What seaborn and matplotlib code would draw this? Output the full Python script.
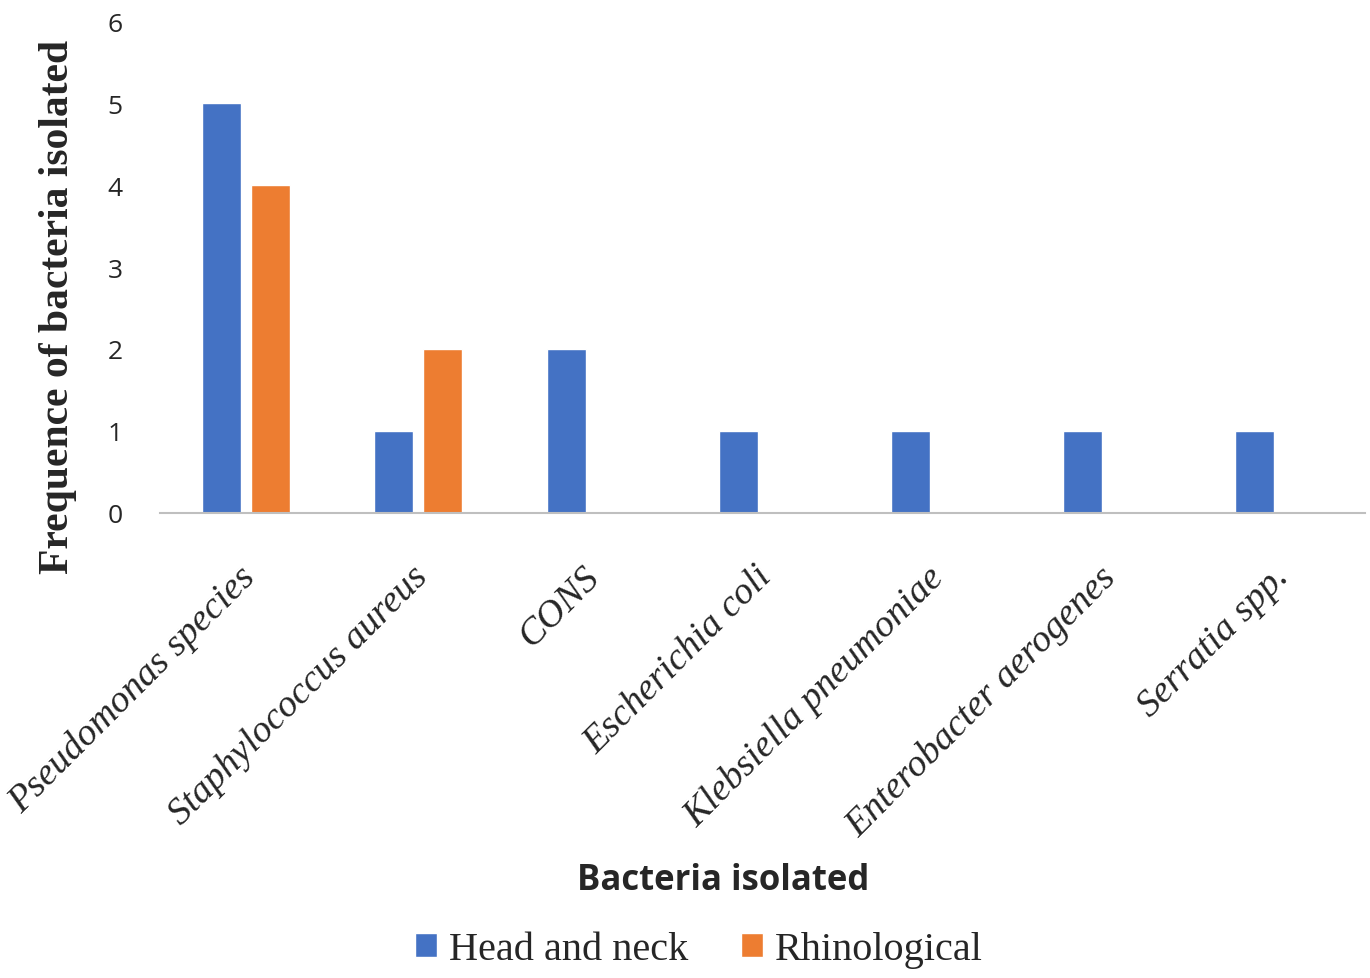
import numpy as np
import pandas as pd
import matplotlib
matplotlib.use("Agg")
import matplotlib.pyplot as plt
from matplotlib import font_manager, transforms
import seaborn as sns

# data
bacteria = ["Pseudomonas species", "Staphylococcus aureus", "CONS", "Escherichia coli",
            "Klebsiella pneumoniae", "Enterobacter aerogenes", "Serratia spp."]
head_neck = [5, 1, 2, 1, 1, 1, 1]
rhino = [4, 2, np.nan, np.nan, np.nan, np.nan, np.nan]
groups = ["Head and neck", "Rhinological"]
colors = ["#4472C4", "#ED7D31"]
yticks = [0, 1, 2, 3, 4, 5, 6]

df = pd.DataFrame({
    "bacteria": bacteria * 2,
    "group": [groups[0]] * len(bacteria) + [groups[1]] * len(bacteria),
    "count": head_neck + rhino,
})

sns.set_style("white")
fig = plt.figure(figsize=(13.7, 9.79), dpi=100)
ax = fig.add_axes([0.1168, 0.475, 0.8796, 0.5025])

sns.barplot(data=df, x="bacteria", y="count", hue="group", palette=colors,
            width=0.565, gap=0.2, saturation=1, ax=ax, legend=True)

ax.set_ylim(0, 6)
ax.set_xlim(-0.5, 6.5)
ax.set_yticks(yticks)
ax.set_yticklabels([str(v) for v in yticks], fontsize=19, family="Open Sans")
ax.tick_params(axis="y", length=0, pad=27)
ax.tick_params(axis="x", length=0, pad=26)
ax.set_xticks(range(len(bacteria)))
ax.set_xticklabels(bacteria, rotation=45, ha="right", rotation_mode="anchor")

# italic serif category names, nudged along the label direction
serif_it = font_manager.FontProperties(family="Liberation Serif", style="italic", size=27.5)
shift = transforms.ScaledTranslation(-0.08, -0.1, fig.dpi_scale_trans)
for lbl in ax.get_xticklabels():
    lbl.set_fontproperties(serif_it)
    lbl.set_transform(lbl.get_transform() + shift)

for s in ["top", "right", "left"]:
    ax.spines[s].set_visible(False)
ax.spines["bottom"].set_color("#BFBFBF")
ax.spines["bottom"].set_linewidth(1.5)

ax.set_ylabel("Frequence of bacteria isolated", fontsize=30, fontweight="bold",
              family="Liberation Serif")
ax.yaxis.set_label_coords(-0.069, 0.42)
ax.set_xlabel("")
fig.text(0.528, 0.1, "Bacteria isolated", ha="center", va="center",
         fontsize=25, fontweight="bold", family="Open Sans")

handles, labels = ax.get_legend_handles_labels()
ax.get_legend().remove()
fig.legend(handles, labels, loc="center", bbox_to_anchor=(0.51, 0.029), ncol=2,
           frameon=False, prop={"family": "Liberation Serif", "size": 29},
           handlelength=0.55, handleheight=0.55, handletextpad=0.3, columnspacing=1.3)

fig.savefig("out.png", dpi=100)
